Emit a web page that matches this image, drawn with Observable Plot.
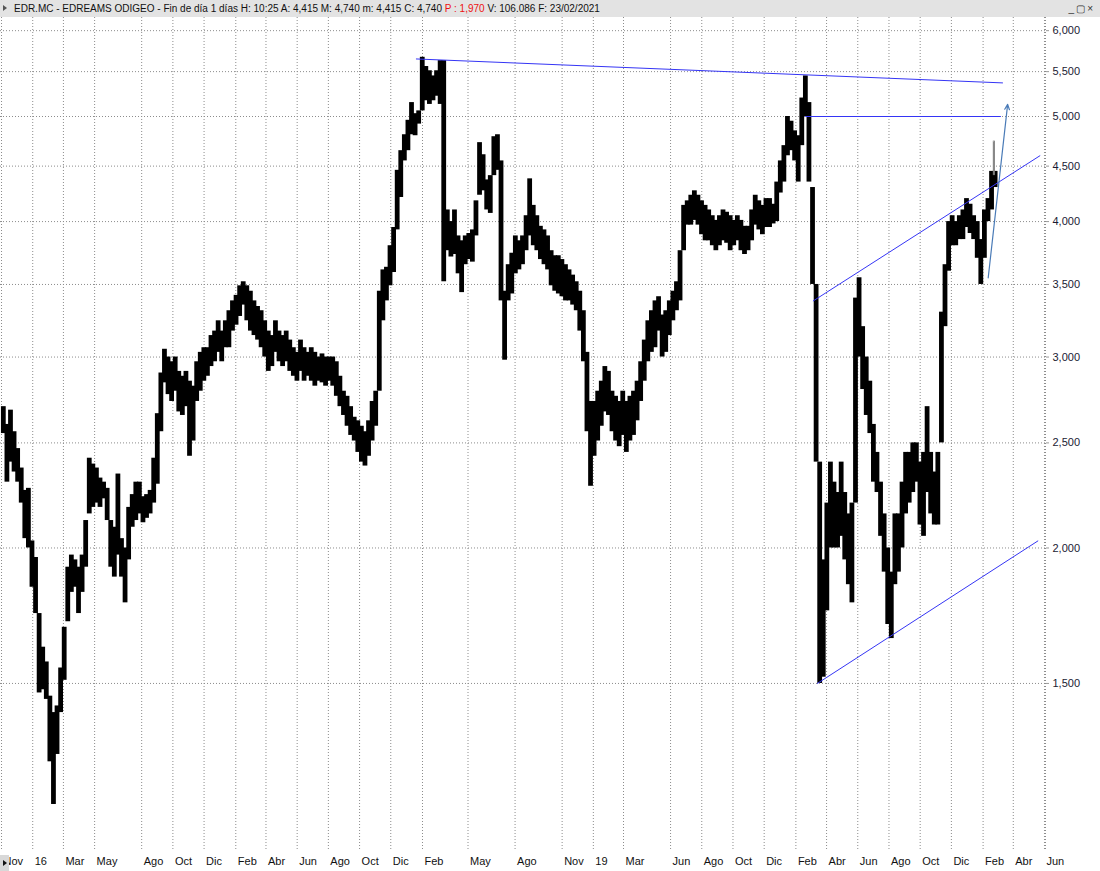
<!DOCTYPE html>
<html><head><meta charset="utf-8">
<script src="https://cdn.jsdelivr.net/npm/d3@7"></script>
<script src="https://cdn.jsdelivr.net/npm/@observablehq/plot@0.6"></script>
<style>
body{margin:0;background:#fff;font-family:Arial,"Liberation Sans",sans-serif;width:1100px;height:871px;overflow:hidden;}
#bar{position:relative;height:17px;width:1100px;background:#e3e3e3;font-size:10px;line-height:17px;color:#111;white-space:nowrap;}
#bar .txt{position:absolute;left:14px;top:0;word-spacing:0;}
#bar .tri{position:absolute;left:3px;top:5px;width:0;height:0;border-top:3.5px solid transparent;border-bottom:3.5px solid transparent;border-left:4px solid #555;}
#bar .btns{position:absolute;right:5px;top:0;font-size:10px;letter-spacing:2px;color:#333;}
#chart{position:relative;}
#corner{position:absolute;left:0;top:838px;width:9px;height:16px;background:#d8d8d8;}
#corner:after{content:"";position:absolute;left:3px;top:5px;border-top:3.5px solid transparent;border-bottom:3.5px solid transparent;border-left:4px solid #111;}
</style></head><body>
<div id="bar"><span class="tri"></span><span class="txt">EDR.MC - EDREAMS ODIGEO - Fin de día 1 días H: 10:25 A: 4,415 M: 4,740 m: 4,415 C: 4,740 <span style="color:#ee1111">P : 1,970</span> V: 106.086 F: 23/02/2021</span><span class="btns">_▢×</span></div>
<div id="chart"><div id="corner"></div></div>
<script>
// Weekly high / low envelope of the daily bars (first week starts 2015-11-02)
const weekStart = "2015-11-02";
const highs = [
2.70,2.60,2.68,2.56,2.47,2.37,2.26,2.27,2.03,1.96,1.74,1.62,1.57,1.46,1.41,1.43,1.55,1.69,1.92,1.97,
1.95,1.92,1.97,2.12,2.42,2.39,2.37,2.32,2.30,2.27,2.12,2.09,2.34,2.04,2.00,2.18,2.24,2.30,2.30,2.23,
2.24,2.26,2.42,2.66,2.90,3.05,3.00,2.97,3.00,2.91,2.88,2.91,2.85,2.82,2.97,3.03,3.06,3.06,3.14,3.17,
3.24,3.17,3.24,3.31,3.38,3.42,3.49,3.52,3.49,3.45,3.38,3.34,3.31,3.24,3.17,3.14,3.24,3.17,3.14,3.17,
3.11,3.06,3.03,3.11,3.06,3.03,3.06,3.03,3.00,3.02,3.00,3.00,3.00,2.97,2.88,2.79,2.76,2.70,2.64,2.62,
2.59,2.56,2.62,2.73,2.79,3.45,3.61,3.63,3.80,3.95,4.46,4.65,4.81,4.96,5.15,5.03,5.06,5.67,5.56,5.51,
5.45,5.51,5.63,5.63,4.10,4.00,4.10,3.88,3.84,3.88,3.90,3.93,4.18,4.73,4.61,4.37,4.41,4.79,4.81,4.55,
3.45,3.65,3.74,3.88,3.84,3.88,4.05,4.38,4.14,4.05,3.96,3.93,3.88,3.76,3.72,3.72,3.69,3.65,3.61,3.57,
3.52,3.45,3.31,3.03,2.73,2.73,2.79,2.85,2.94,2.91,2.79,2.76,2.73,2.79,2.73,2.76,2.79,2.85,2.97,3.11,
3.24,3.31,3.38,3.41,3.28,3.31,3.38,3.45,3.52,3.76,4.14,4.18,4.23,4.27,4.23,4.18,4.14,4.10,4.05,4.01,
4.05,4.10,4.08,4.05,4.01,4.05,4.01,3.96,3.96,4.10,4.23,4.18,4.14,4.20,4.20,4.15,4.35,4.55,4.70,5.00,
4.95,4.85,4.80,5.20,5.45,5.15,4.30,3.50,2.40,1.95,2.20,2.40,2.30,2.25,2.40,2.25,2.15,2.20,3.40,3.55,
3.20,3.00,2.85,2.60,2.45,2.30,2.15,2.00,1.90,2.15,2.15,2.30,2.45,2.45,2.50,2.50,2.40,2.45,2.70,2.45,
2.35,2.45,3.30,3.65,4.00,4.05,4.00,4.05,4.10,4.20,4.15,4.05,4.00,3.85,4.10,4.20,4.45,4.45
];
const lows = [
2.55,2.30,2.40,2.35,2.30,2.20,2.04,2.00,1.84,1.74,1.47,1.48,1.45,1.27,1.16,1.29,1.41,1.51,1.71,1.82,
1.84,1.74,1.82,1.92,2.15,2.18,2.20,2.18,2.22,2.12,1.92,1.88,1.97,1.88,1.78,1.95,2.09,2.12,2.15,2.11,
2.13,2.15,2.20,2.29,2.56,2.84,2.77,2.73,2.79,2.67,2.65,2.70,2.43,2.51,2.73,2.79,2.85,2.88,2.94,2.97,
3.03,2.97,3.06,3.06,3.17,3.21,3.27,3.35,3.24,3.17,3.14,3.11,3.06,3.00,2.91,2.94,3.03,2.97,2.94,2.97,
2.91,2.88,2.85,2.91,2.85,2.88,2.85,2.82,2.85,2.84,2.82,2.85,2.82,2.76,2.70,2.65,2.59,2.54,2.51,2.45,
2.40,2.38,2.43,2.51,2.59,2.79,3.24,3.38,3.49,3.59,3.93,4.21,4.55,4.65,4.81,4.80,4.92,5.06,5.17,5.13,
5.17,5.22,5.13,3.52,3.76,3.71,3.73,3.58,3.44,3.65,3.69,3.67,3.88,4.23,4.27,4.10,4.07,4.41,4.46,3.38,
2.98,3.38,3.43,3.58,3.61,3.65,3.76,3.88,3.80,3.76,3.69,3.65,3.61,3.49,3.45,3.43,3.41,3.38,3.38,3.35,
3.31,3.17,2.97,2.56,2.28,2.43,2.51,2.59,2.67,2.65,2.56,2.51,2.48,2.54,2.45,2.51,2.54,2.62,2.73,2.85,
2.97,3.03,3.06,3.17,3.00,3.03,3.14,3.24,3.31,3.38,3.76,3.97,3.97,4.01,3.97,3.89,3.84,3.84,3.80,3.76,
3.80,3.84,3.82,3.76,3.80,3.84,3.76,3.73,3.76,3.84,3.97,3.93,3.89,3.95,3.95,3.98,4.00,4.25,4.35,4.60,
4.65,4.55,4.35,4.70,5.00,4.35,3.50,2.40,1.50,1.52,1.75,2.00,2.00,2.00,2.05,1.95,1.85,1.78,2.20,3.00,
2.80,2.65,2.55,2.30,2.25,2.05,1.90,1.70,1.65,1.85,1.90,2.00,2.15,2.20,2.25,2.30,2.10,2.05,2.25,2.15,
2.10,2.10,2.50,3.20,3.60,3.80,3.80,3.85,3.85,3.95,3.90,3.85,3.70,3.50,3.70,4.00,4.10,4.30
];
// Last session (23/02/2021): open and close
const lastDay = ["2021-02-22", "2021-02-24"];
const lastOpenClose = [4.415, 4.74];

// Drawn annotations (date, price)
const topLineDates = ["2018-01-20", "2021-03-11"], topLinePrices = [5.65, 5.37];
const levelDates = ["2020-02-20", "2021-03-07"], levelPrices = [5.0, 5.0];
const upperDates = ["2020-03-06", "2021-05-23"], upperPrices = [3.38, 4.60];
const lowerDates = ["2020-03-14", "2021-05-19"], lowerPrices = [1.50, 2.03];
const arrowDates = ["2021-02-11", "2021-03-21"], arrowPrices = [3.55, 5.13];

// Axis ticks
const xTickDates = ["2015-11-01","2016-01-01","2016-03-01","2016-05-01","2016-08-01","2016-10-01","2016-12-01",
"2017-02-01","2017-04-01","2017-06-01","2017-08-01","2017-10-01","2017-12-01","2018-02-01","2018-05-01",
"2018-08-01","2018-11-01","2019-01-01","2019-03-01","2019-06-01","2019-08-01","2019-10-01","2019-12-01",
"2020-02-01","2020-04-01","2020-06-01","2020-08-01","2020-10-01","2020-12-01","2021-02-01","2021-04-01","2021-06-01"];
const xTickLabels = ["Nov","16","Mar","May","Ago","Oct","Dic","Feb","Abr","Jun","Ago","Oct","Dic","Feb","May",
"Ago","Nov","19","Mar","Jun","Ago","Oct","Dic","Feb","Abr","Jun","Ago","Oct","Dic","Feb","Abr","Jun"];
const yTicks = [1.5, 2, 2.5, 3, 3.5, 4, 4.5, 5, 5.5, 6];

const P = s => new Date(s + "T00:00:00Z");
const s0 = P(weekStart);
const bars = highs.map((h, i) => ({d1: d3.utcDay.offset(s0, 7 * i), d2: d3.utcDay.offset(s0, 7 * i + 7), hi: h, lo: lows[i]}));
const lastBar = [{d1: P(lastDay[0]), d2: P(lastDay[1]), o: lastOpenClose[0], c: lastOpenClose[1]}];
const seg = (ds, ps) => ds.map((d, i) => ({date: P(d), price: ps[i]}));
const xTicks = xTickDates.map(P);
const labelMap = new Map(xTicks.map((d, i) => [+d, xTickLabels[i]]));
const xDomain = [P("2015-10-30"), P("2021-06-03")];
const blue = "#3535f5";
const dotted = {stroke: "#8c8c8c", strokeOpacity: 1, strokeDasharray: "1,2"};

const chart = Plot.plot({
  width: 1100, height: 854,
  marginLeft: 0, marginRight: 55, marginTop: 0, marginBottom: 21,
  style: {fontFamily: "Arial, 'Liberation Sans', sans-serif", fontSize: "11px", background: "#fff", color: "#111"},
  x: {type: "utc", domain: xDomain},
  y: {type: "log", domain: [1.052, 6.17]},
  marks: [
    Plot.gridX(xTicks, dotted),
    Plot.gridY(yTicks, dotted),
    Plot.ruleX([xDomain[1]], dotted),
    Plot.rect(bars, {x1: "d1", x2: "d2", y1: "lo", y2: "hi", fill: "#000", insetLeft: -0.6, insetRight: -0.6}),
    Plot.rect(lastBar, {x1: "d1", x2: "d2", y1: "o", y2: "c", fill: "#fff", stroke: "#777", strokeWidth: 1}),
    Plot.line(seg(topLineDates, topLinePrices), {x: "date", y: "price", stroke: blue, strokeWidth: 1}),
    Plot.line(seg(levelDates, levelPrices), {x: "date", y: "price", stroke: blue, strokeWidth: 1}),
    Plot.line(seg(upperDates, upperPrices), {x: "date", y: "price", stroke: blue, strokeWidth: 1}),
    Plot.line(seg(lowerDates, lowerPrices), {x: "date", y: "price", stroke: blue, strokeWidth: 1}),
    Plot.arrow([{a: P(arrowDates[0]), b: P(arrowDates[1]), pa: arrowPrices[0], pb: arrowPrices[1]}],
      {x1: "a", y1: "pa", x2: "b", y2: "pb", stroke: "#4a7bb7", strokeWidth: 1.2, headLength: 7, headAngle: 50}),
    Plot.axisX(xTicks, {anchor: "bottom", tickSize: 0, tickPadding: 7, textAnchor: "start", dx: 2,
      tickFormat: d => labelMap.get(+d), fill: "#111"}),
    Plot.axisY(yTicks, {anchor: "right", tickSize: 3, tickPadding: 4, textAnchor: "start",
      tickFormat: d => d.toFixed(3).replace(".", ","), fill: "#1a1a33", stroke: "#999"})
  ]
});
document.getElementById("chart").prepend(chart);
</script>
</body></html>
